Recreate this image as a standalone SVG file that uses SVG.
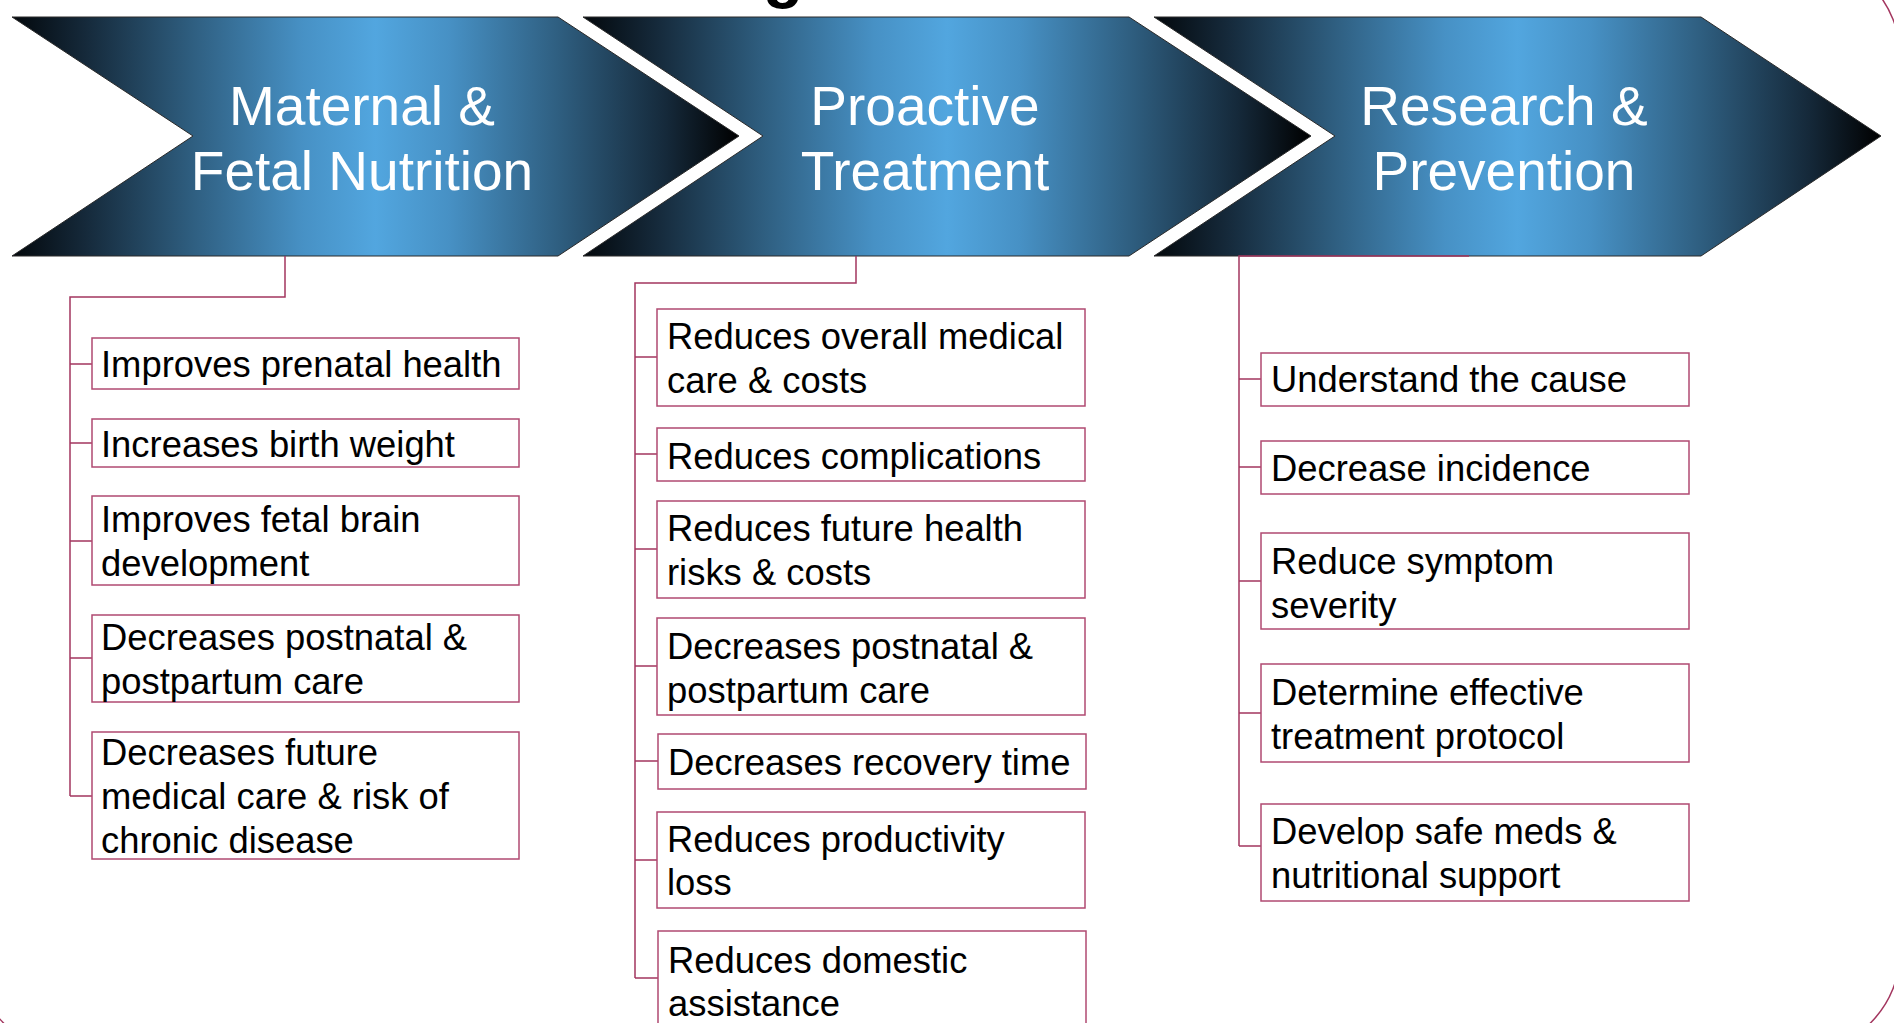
<svg xmlns="http://www.w3.org/2000/svg" width="1894" height="1023" viewBox="0 0 1894 1023">
<defs>
<linearGradient id="chevGrad" x1="0" y1="0" x2="1" y2="0">
<stop offset="0" stop-color="#03080c"/>
<stop offset="0.1" stop-color="#15293a"/>
<stop offset="0.25" stop-color="#2f5f81"/>
<stop offset="0.4" stop-color="#4791c5"/>
<stop offset="0.5" stop-color="#52a6df"/>
<stop offset="0.6" stop-color="#4791c5"/>
<stop offset="0.75" stop-color="#2f5f81"/>
<stop offset="0.9" stop-color="#15293a"/>
<stop offset="1" stop-color="#000000"/>
</linearGradient>
<style>
.chev{fill:url(#chevGrad);stroke:#2a2a2a;stroke-width:1}
.head{font-family:"Liberation Sans",Arial,sans-serif;font-size:55px;fill:#ffffff;text-anchor:middle}
.box{fill:#ffffff;stroke:#b04a72;stroke-width:1.5}
.lbl{font-family:"Liberation Sans",Arial,sans-serif;font-size:36.4px;fill:#000000}
.conn{fill:none;stroke:#a3365f;stroke-width:1.5}
.frame{fill:none;stroke:#a3365f;stroke-width:1.5}
.title{font-family:"Liberation Sans",Arial,sans-serif;font-weight:bold;font-size:66px;fill:#000000}
</style>
</defs>
<rect x="0" y="0" width="1894" height="1023" fill="#ffffff"/>
<rect class="frame" x="-26" y="-44" width="1926" height="1096" rx="100" ry="100"/>
<text class="title" x="763" y="-5">g</text>

<g id="chevron-maternal">
<path class="chev" d="M12,17 L558,17 L739,136 L558,256 L12,256 L193,136 Z"/>
<text class="head" x="362" y="125">Maternal &amp;</text>
<text class="head" x="362" y="190">Fetal Nutrition</text>
</g>
<g id="chevron-proactive">
<path class="chev" d="M583,17 L1129,17 L1311,136 L1129,256 L583,256 L763,136 Z"/>
<text class="head" x="925" y="125">Proactive</text>
<text class="head" x="925" y="190">Treatment</text>
</g>
<g id="chevron-research">
<path class="chev" d="M1154,17 L1701,17 L1881,136 L1701,256 L1154,256 L1335,136 Z"/>
<text class="head" x="1504" y="125">Research &amp;</text>
<text class="head" x="1504" y="190">Prevention</text>
</g>

<g id="connectors">
<path class="conn" d="M285,256 V297 H70 V796"/>
<path class="conn" d="M70,364 H92 M70,443 H92 M70,541 H92 M70,658 H92 M70,796 H92"/>
<path class="conn" d="M856,256 V283 H635 V978"/>
<path class="conn" d="M635,357 H657 M635,454 H657 M635,549 H657 M635,666 H657 M635,761 H658 M635,860 H657 M635,978 H658"/>
<path class="conn" d="M1469,256 H1239 V846"/>
<path class="conn" d="M1239,379 H1261 M1239,467 H1261 M1239,581 H1261 M1239,713 H1261 M1239,846 H1261"/>
</g>

<g id="m1"><rect class="box" x="92" y="338" width="427" height="51"/><text class="lbl" x="101" y="377">Improves prenatal health</text></g>
<g id="m2"><rect class="box" x="92" y="419" width="427" height="48"/><text class="lbl" x="101" y="457">Increases birth weight</text></g>
<g id="m3"><rect class="box" x="92" y="496" width="427" height="89"/><text class="lbl" x="101" y="532">Improves fetal brain</text><text class="lbl" x="101" y="576">development</text></g>
<g id="m4"><rect class="box" x="92" y="615" width="427" height="87"/><text class="lbl" x="101" y="650">Decreases postnatal &amp;</text><text class="lbl" x="101" y="694">postpartum care</text></g>
<g id="m5"><rect class="box" x="92" y="732" width="427" height="127"/><text class="lbl" x="101" y="765">Decreases future</text><text class="lbl" x="101" y="809">medical care &amp; risk of</text><text class="lbl" x="101" y="853">chronic disease</text></g>

<g id="p1"><rect class="box" x="657" y="309" width="428" height="97"/><text class="lbl" x="667" y="349">Reduces overall medical</text><text class="lbl" x="667" y="393">care &amp; costs</text></g>
<g id="p2"><rect class="box" x="657" y="428" width="428" height="53"/><text class="lbl" x="667" y="469">Reduces complications</text></g>
<g id="p3"><rect class="box" x="657" y="501" width="428" height="97"/><text class="lbl" x="667" y="541">Reduces future health</text><text class="lbl" x="667" y="585">risks &amp; costs</text></g>
<g id="p4"><rect class="box" x="657" y="618" width="428" height="97"/><text class="lbl" x="667" y="659">Decreases postnatal &amp;</text><text class="lbl" x="667" y="703">postpartum care</text></g>
<g id="p5"><rect class="box" x="658" y="734" width="428" height="55"/><text class="lbl" x="668" y="775">Decreases recovery time</text></g>
<g id="p6"><rect class="box" x="657" y="812" width="428" height="96"/><text class="lbl" x="667" y="852">Reduces productivity</text><text class="lbl" x="667" y="895">loss</text></g>
<g id="p7"><rect class="box" x="658" y="931" width="428" height="120"/><text class="lbl" x="668" y="973">Reduces domestic</text><text class="lbl" x="668" y="1016">assistance</text></g>

<g id="r1"><rect class="box" x="1261" y="353" width="428" height="53"/><text class="lbl" x="1271" y="392">Understand the cause</text></g>
<g id="r2"><rect class="box" x="1261" y="441" width="428" height="53"/><text class="lbl" x="1271" y="481">Decrease incidence</text></g>
<g id="r3"><rect class="box" x="1261" y="533" width="428" height="96"/><text class="lbl" x="1271" y="574">Reduce symptom</text><text class="lbl" x="1271" y="618">severity</text></g>
<g id="r4"><rect class="box" x="1261" y="664" width="428" height="98"/><text class="lbl" x="1271" y="705">Determine effective</text><text class="lbl" x="1271" y="749">treatment protocol</text></g>
<g id="r5"><rect class="box" x="1261" y="804" width="428" height="97"/><text class="lbl" x="1271" y="844">Develop safe meds &amp;</text><text class="lbl" x="1271" y="888">nutritional support</text></g>
</svg>
